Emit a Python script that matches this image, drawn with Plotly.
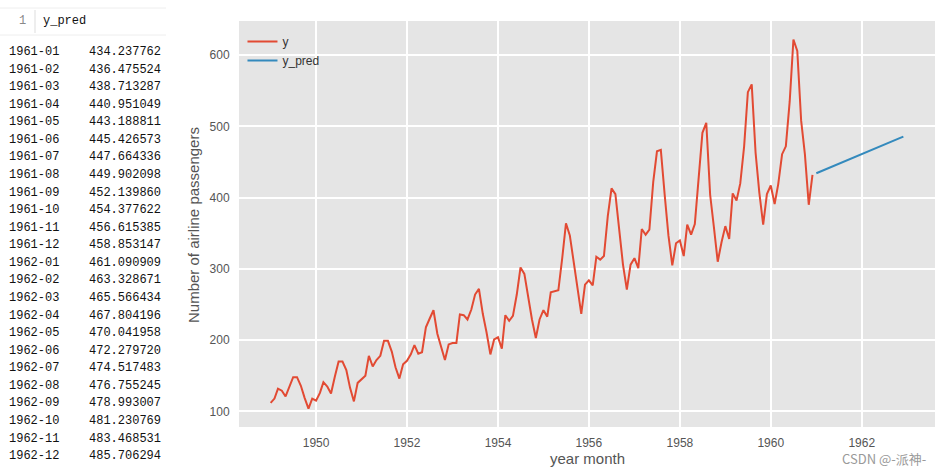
import plotly.graph_objects as go
import pandas as pd

# ---- data ----
passengers = [
    112, 118, 132, 129, 121, 135, 148, 148, 136, 119, 104, 118,
    115, 126, 141, 135, 125, 149, 170, 170, 158, 133, 114, 140,
    145, 150, 178, 163, 172, 178, 199, 199, 184, 162, 146, 166,
    171, 180, 193, 181, 183, 218, 230, 242, 209, 191, 172, 194,
    196, 196, 236, 235, 229, 243, 264, 272, 237, 211, 180, 201,
    204, 188, 235, 227, 234, 264, 302, 293, 259, 229, 203, 229,
    242, 233, 267, 269, 270, 315, 364, 347, 312, 274, 237, 278,
    284, 277, 317, 313, 318, 374, 413, 405, 355, 306, 271, 306,
    315, 301, 356, 348, 355, 422, 465, 467, 404, 347, 305, 336,
    340, 318, 362, 348, 363, 435, 491, 505, 404, 359, 310, 337,
    360, 342, 406, 396, 420, 472, 548, 559, 463, 407, 362, 405,
    417, 391, 419, 461, 472, 535, 622, 606, 508, 461, 390, 432,
]
obs_months = pd.date_range("1949-01-01", periods=len(passengers), freq="MS")

pred_months = [
    "1961-01", "1961-02", "1961-03", "1961-04", "1961-05", "1961-06",
    "1961-07", "1961-08", "1961-09", "1961-10", "1961-11", "1961-12",
    "1962-01", "1962-02", "1962-03", "1962-04", "1962-05", "1962-06",
    "1962-07", "1962-08", "1962-09", "1962-10", "1962-11", "1962-12",
]
y_pred = [
    434.237762, 436.475524, 438.713287, 440.951049, 443.188811, 445.426573,
    447.664336, 449.902098, 452.139860, 454.377622, 456.615385, 458.853147,
    461.090909, 463.328671, 465.566434, 467.804196, 470.041958, 472.279720,
    474.517483, 476.755245, 478.993007, 481.230769, 483.468531, 485.706294,
]
x_ticks = ["1950", "1952", "1954", "1956", "1958", "1960", "1962"]
y_ticks = [100, 200, 300, 400, 500, 600]

# ---- layout geometry ----
W, H = 941, 473
L, R, T, B = 239, 6, 21, 46
PW, PH = W - L - R, H - T - B


def px_x(p):
    return (p - L) / PW


def px_y(p):
    return 1 - (p - T) / PH


RED = "#E24A33"
BLUE = "#348ABD"
GREY = "#555555"

fig = go.Figure()
fig.add_trace(go.Scatter(x=obs_months, y=passengers, mode="lines", name="y",
                         line=dict(color=RED, width=2)))
fig.add_trace(go.Scatter(x=[m + "-01" for m in pred_months], y=y_pred, mode="lines",
                         name="y_pred", line=dict(color=BLUE, width=2)))

annotations = []
# table on the left
tfont = dict(family="Liberation Mono, DejaVu Sans Mono, monospace", size=12, color="#111111")
annotations.append(dict(text="1", x=px_x(28), y=px_y(21), xref="paper", yref="paper",
                        xanchor="right", yanchor="middle", showarrow=False,
                        font=dict(family=tfont["family"], size=12, color="#888888")))
annotations.append(dict(text="y_pred", x=px_x(41), y=px_y(21), xref="paper", yref="paper",
                        xanchor="left", yanchor="middle", showarrow=False, font=tfont))
for i, (m, v) in enumerate(zip(pred_months, y_pred)):
    yy = px_y(52 + 17.57 * i)
    annotations.append(dict(text=m, x=px_x(7), y=yy, xref="paper", yref="paper",
                            xanchor="left", yanchor="middle", showarrow=False, font=tfont))
    annotations.append(dict(text=f"{v:.6f}", x=px_x(163), y=yy, xref="paper", yref="paper",
                            xanchor="right", yanchor="middle", showarrow=False, font=tfont))
# axis titles
annotations.append(dict(text="year month", x=px_x(587), y=px_y(459), xref="paper", yref="paper",
                        xanchor="center", yanchor="middle", showarrow=False,
                        font=dict(size=15, color=GREY)))
annotations.append(dict(text="Number of airline passengers", x=px_x(193), y=px_y(225),
                        xref="paper", yref="paper", textangle=-90,
                        xanchor="center", yanchor="middle", showarrow=False,
                        font=dict(size=15, color=GREY)))
# watermark
annotations.append(dict(text="CSDN @-派神-", x=px_x(928), y=px_y(458), xref="paper", yref="paper",
                        xanchor="right", yanchor="middle", showarrow=False,
                        font=dict(family="Noto Sans CJK SC, Liberation Sans", size=13, color="#999999")))

shapes = [
    dict(type="line", xref="paper", yref="paper", x0=px_x(35), x1=px_x(35),
         y0=px_y(10), y1=px_y(33), line=dict(color="#dddddd", width=1)),
    dict(type="line", xref="paper", yref="paper", x0=px_x(0), x1=px_x(166),
         y0=px_y(8), y1=px_y(8), line=dict(color="#eeeeee", width=1)),
    dict(type="line", xref="paper", yref="paper", x0=px_x(0), x1=px_x(166),
         y0=px_y(35), y1=px_y(35), line=dict(color="#eeeeee", width=1)),
]

fig.update_layout(
    width=W, height=H,
    margin=dict(l=L, r=R, t=T, b=B, pad=0, autoexpand=False),
    paper_bgcolor="white",
    plot_bgcolor="#E5E5E5",
    font=dict(family="Liberation Sans, Arial, sans-serif", color=GREY, size=12),
    showlegend=True,
    legend=dict(x=0.005, y=0.985, xanchor="left", yanchor="top",
                bgcolor="rgba(0,0,0,0)", font=dict(size=12, color="#333333"),
                itemwidth=30, tracegroupgap=0),
    annotations=annotations,
    shapes=shapes,
)
fig.update_xaxes(
    automargin=False,
    range=["1948-04-22", "1963-08-12"],
    tickvals=[t + "-01-01" for t in x_ticks], ticktext=x_ticks,
    showgrid=True, gridcolor="white", gridwidth=1.5,
    zeroline=False, showline=False, ticks="outside", ticklen=5, tickcolor="rgba(0,0,0,0)",
    tickfont=dict(size=12, color=GREY),
)
fig.update_yaxes(
    automargin=False,
    range=[78.1, 647.9],
    tickvals=y_ticks,
    showgrid=True, gridcolor="white", gridwidth=1.5,
    zeroline=False, showline=False, ticks="outside", ticklen=6, tickcolor="rgba(0,0,0,0)",
    tickfont=dict(size=12, color=GREY),
)

fig.write_html(
    "out.html",
    config={"displayModeBar": False},
    post_script="document.body.style.margin='0';document.body.style.overflow='hidden';",
)
